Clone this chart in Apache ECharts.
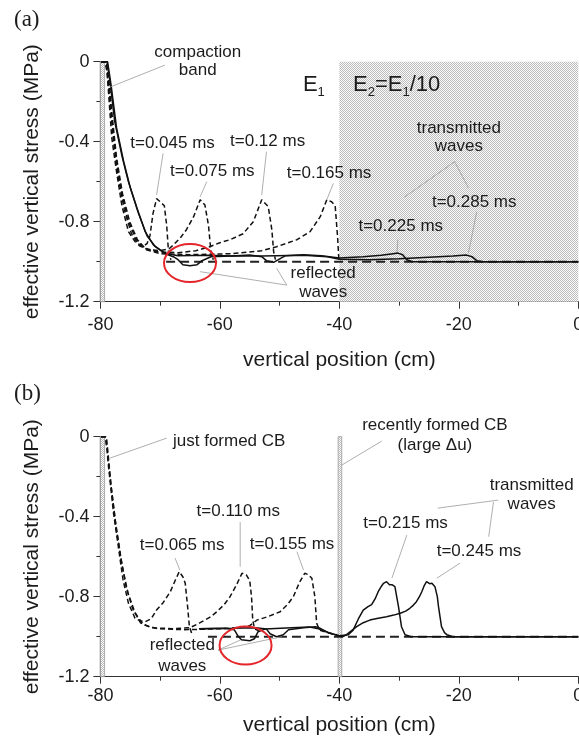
<!DOCTYPE html>
<html>
<head>
<meta charset="utf-8">
<script src="https://cdn.jsdelivr.net/npm/echarts@6/dist/echarts.min.js"></script>
<style>
  html, body { margin: 0; padding: 0; background: #fff; }
  #chart { width: 579px; height: 738px; }
</style>
</head>
<body>
<div id="chart"></div>
<script>
// axis ticks
const xTicks = [-80, -60, -40, -20, 0];
const yTicks = [-1.2, -0.8, -0.4, 0];

// ---- panel (a): E1 | E2 = E1/10 as [position cm, stress MPa]
const aT045 = [[-79.9,0],[-79.2,0],[-78.9,-0.05],[-78.7,-0.13],[-78.1,-0.38],[-77.3,-0.55],[-76.4,-0.72],[-75.3,-0.85],[-74.2,-0.9],[-73.0,-0.925],[-72.2,-0.91],[-71.7,-0.87],[-71.2,-0.76],[-70.6,-0.685],[-70.0,-0.7],[-69.3,-0.72],[-68.9,-0.82],[-68.6,-0.95],[-68.2,-0.99]];
const aT075 = [[-79.9,0],[-79.1,0],[-78.8,-0.07],[-78.4,-0.2],[-77.8,-0.4],[-77.0,-0.58],[-76.0,-0.74],[-74.8,-0.86],[-73.5,-0.92],[-72.0,-0.94],[-70.0,-0.945],[-68.5,-0.935],[-67.8,-0.917],[-66.6,-0.88],[-65.6,-0.84],[-64.4,-0.775],[-63.3,-0.69],[-62.5,-0.717],[-61.9,-0.82],[-61.5,-0.95],[-61.1,-0.99]];
const aT120 = [[-79.9,0],[-79.0,0],[-78.7,-0.08],[-78.2,-0.25],[-77.5,-0.45],[-76.6,-0.63],[-75.5,-0.78],[-74.2,-0.88],[-72.8,-0.93],[-70.5,-0.95],[-67.0,-0.955],[-64.0,-0.945],[-61.7,-0.925],[-60.0,-0.905],[-58.3,-0.89],[-56.1,-0.86],[-54.4,-0.8],[-53.0,-0.69],[-51.9,-0.725],[-51.3,-0.84],[-51.0,-0.95],[-50.7,-0.99]];
const aT165 = [[-79.9,0],[-79.0,0],[-78.6,-0.09],[-78.0,-0.28],[-77.3,-0.48],[-76.3,-0.66],[-75.1,-0.8],[-73.8,-0.89],[-72.3,-0.94],[-70.0,-0.96],[-65.0,-0.965],[-58.0,-0.96],[-53.0,-0.945],[-50.5,-0.925],[-47.1,-0.89],[-44.9,-0.85],[-43.2,-0.775],[-42.1,-0.69],[-41.3,-0.7],[-40.7,-0.72],[-40.3,-0.875],[-40.1,-0.98],[-39.7,-1.0]];
const aT225 = [[-79.9,0],[-78.9,0],[-78.4,-0.1],[-77.6,-0.3],[-76.4,-0.47],[-75.3,-0.6],[-73.9,-0.73],[-72.5,-0.85],[-71.1,-0.917],[-69.2,-0.958],[-67.0,-0.97],[-62.0,-0.968],[-58.0,-0.972],[-55.0,-0.966],[-53.0,-0.975],[-52.2,-0.995],[-51.0,-1.003],[-50.2,-0.99],[-49.0,-0.97],[-46.0,-0.965],[-43.0,-0.97],[-40.0,-0.982],[-36.0,-0.975],[-33.0,-0.968],[-31.0,-0.96],[-30.2,-0.957],[-29.4,-0.965],[-28.7,-0.99],[-27.8,-1.0],[0,-1.0]];
const aT285 = [[-79.9,0],[-78.8,0],[-78.2,-0.12],[-77.3,-0.33],[-76.1,-0.5],[-75.0,-0.63],[-73.6,-0.76],[-72.2,-0.87],[-70.8,-0.925],[-69.0,-0.962],[-67.8,-0.975],[-67.0,-0.99],[-66.2,-1.015],[-65.0,-1.02],[-63.8,-1.015],[-63.0,-0.995],[-61.5,-0.975],[-57.0,-0.97],[-53.0,-0.972],[-46.0,-0.968],[-42.0,-0.975],[-40.0,-0.988],[-35.0,-0.99],[-30.0,-0.985],[-25.0,-0.978],[-21.0,-0.972],[-18.7,-0.967],[-17.8,-0.975],[-17.0,-0.995],[-16.0,-1.0],[0,-1.0]];
const aInitial = [[-69,-1.0],[0,-1.0]];

// ---- panel (b): uniform bar, band re-forms at -40 cm
const bT065 = [[-79.9,0],[-79.2,0],[-78.9,-0.06],[-78.7,-0.133],[-77.8,-0.383],[-77.0,-0.55],[-76.2,-0.717],[-75.3,-0.833],[-74.2,-0.908],[-73.4,-0.92],[-72.5,-0.925],[-71.5,-0.91],[-70.6,-0.867],[-69.5,-0.83],[-68.3,-0.775],[-67.5,-0.72],[-66.8,-0.675],[-66.2,-0.7],[-65.8,-0.733],[-65.4,-0.85],[-65.1,-0.95],[-64.7,-0.985]];
const bT110 = [[-79.9,0],[-79.1,0],[-78.8,-0.08],[-78.4,-0.2],[-77.5,-0.42],[-76.6,-0.6],[-75.7,-0.75],[-74.6,-0.86],[-73.3,-0.93],[-71.5,-0.955],[-68.0,-0.96],[-65.0,-0.955],[-63.3,-0.93],[-61.5,-0.9],[-60.5,-0.875],[-59.3,-0.84],[-58.3,-0.8],[-57.2,-0.74],[-56.3,-0.683],[-55.6,-0.69],[-55.0,-0.72],[-54.7,-0.8],[-54.5,-0.917],[-54.2,-0.96],[-53.5,-0.97]];
const bT155 = [[-79.9,0],[-79.0,0],[-78.7,-0.09],[-78.2,-0.25],[-77.3,-0.47],[-76.4,-0.64],[-75.4,-0.78],[-74.2,-0.88],[-72.8,-0.94],[-70.5,-0.96],[-66.0,-0.965],[-62.0,-0.962],[-58.0,-0.958],[-55.0,-0.945],[-53.8,-0.917],[-52.0,-0.9],[-49.9,-0.875],[-48.7,-0.84],[-47.7,-0.8],[-46.7,-0.73],[-45.8,-0.683],[-45.2,-0.69],[-44.6,-0.708],[-44.1,-0.8],[-43.8,-0.933],[-43.3,-0.967],[-42.0,-0.98],[-40.4,-0.99]];
const bT215 = [[-63.5,-0.96],[-58.0,-0.958],[-54.0,-0.955],[-52.2,-0.962],[-51.6,-0.985],[-50.5,-1.0],[-49.4,-0.99],[-48.5,-0.965],[-46.0,-0.955],[-44.0,-0.95],[-43.2,-0.958],[-41.6,-0.983],[-40.0,-0.995],[-38.5,-0.99],[-37.7,-0.967],[-36.8,-0.91],[-36.0,-0.867],[-35.2,-0.85],[-34.6,-0.84],[-34.0,-0.81],[-33.5,-0.775],[-32.9,-0.745],[-32.6,-0.733],[-32.1,-0.725],[-31.6,-0.74],[-31.2,-0.74],[-30.7,-0.75],[-30.1,-0.85],[-29.6,-0.95],[-29.0,-0.99],[-28.0,-1.0],[0,-1.0]];
const bT245 = [[-63.5,-0.96],[-59.0,-0.958],[-57.6,-0.965],[-57.0,-0.995],[-56.4,-1.015],[-55.0,-1.02],[-54.2,-1.01],[-53.6,-0.975],[-52.5,-0.962],[-48.0,-0.955],[-45.0,-0.952],[-43.5,-0.96],[-42.0,-0.978],[-40.5,-0.992],[-39.5,-1.0],[-38.8,-0.99],[-37.1,-0.95],[-36.0,-0.93],[-34.9,-0.917],[-33.5,-0.908],[-32.1,-0.9],[-30.9,-0.892],[-29.8,-0.883],[-28.9,-0.872],[-28.2,-0.858],[-27.6,-0.842],[-27.1,-0.825],[-26.6,-0.8],[-26.2,-0.775],[-25.8,-0.745],[-25.4,-0.725],[-24.9,-0.735],[-24.5,-0.733],[-24.0,-0.75],[-23.6,-0.8],[-23.4,-0.85],[-23.1,-0.91],[-22.9,-0.95],[-22.4,-0.98],[-22.0,-0.99],[-21.0,-1.0],[0,-1.0]];
const bInitial = [[-62,-1.0],[0,-1.0]];

// compaction bands and the softer zone, [from, to] in cm
const bandsA = [[-80, -79.3]];
const bandsB = [[-80, -79.3], [-40.2, -39.6]];
const softZoneA = [-40, 0];

// annotations, anchored in data units
const notesA = [
  { text: 'compaction\nband', at: [-63.7, 0.0], align: 'center', lh: 18 },
  { text: 't=0.045 ms', at: [-75.0, -0.408] },
  { text: 't=0.075 ms', at: [-68.35, -0.55] },
  { text: 't=0.12 ms', at: [-58.3, -0.4] },
  { text: 't=0.165 ms', at: [-48.8, -0.558] },
  { text: 't=0.225 ms', at: [-36.8, -0.825] },
  { text: 't=0.285 ms', at: [-24.5, -0.705] },
  { text: 'transmitted\nwaves', at: [-20.0, -0.38], align: 'center', lh: 18 },
  { text: 'reflected\nwaves', at: [-42.7, -1.108], align: 'center', lh: 19 }
];
const leadersA = [
  [[-69.2, -0.017], [-78.4, -0.127]],
  [[-69.5, -0.458], [-70.6, -0.667]],
  [[-62.2, -0.6], [-63.3, -0.675]],
  [[-52.2, -0.45], [-53.0, -0.667]],
  [[-41.0, -0.608], [-42.1, -0.69]],
  [[-30.2, -0.89], [-30.35, -0.95]],
  [[-17.0, -0.75], [-18.4, -0.958]],
  [[-20.7, -0.5], [-29.1, -0.677]],
  [[-20.7, -0.5], [-18.4, -0.63]],
  [[-48.8, -1.117], [-63.3, -1.05]],
  [[-48.8, -1.117], [-50.5, -1.033]]
];
const circleA = [-65.0, -1.007];

const notesB = [
  { text: 'just formed CB', at: [-67.85, -0.025] },
  { text: 'recently formed CB\n(large \u0394u)', at: [-24.0, 0.008], align: 'center', lh: 20 },
  { text: 'transmitted\nwaves', at: [-7.8, -0.289], align: 'center', lh: 19 },
  { text: 't=0.215 ms', at: [-36.0, -0.432] },
  { text: 't=0.245 ms', at: [-23.7, -0.575] },
  { text: 't=0.065 ms', at: [-73.4, -0.542] },
  { text: 't=0.110 ms', at: [-63.9, -0.375] },
  { text: 't=0.155 ms', at: [-55.0, -0.537] },
  { text: 'reflected\nwaves', at: [-66.3, -1.097], align: 'center', lh: 21 }
];
const leadersB = [
  [[-68.9, -0.007], [-78.4, -0.107]],
  [[-32.9, -0.022], [-39.6, -0.142]],
  [[-13.4, -0.317], [-23.5, -0.357]],
  [[-14.2, -0.326], [-15.0, -0.5]],
  [[-28.7, -0.492], [-31.2, -0.707]],
  [[-19.8, -0.632], [-23.7, -0.708]],
  [[-67.5, -0.607], [-66.7, -0.667]],
  [[-56.6, -0.427], [-56.6, -0.65]],
  [[-47.1, -0.575], [-46.0, -0.667]],
  [[-60.3, -1.067], [-56.6, -1.017]],
  [[-60.3, -1.067], [-49.6, -1.0]]
];
const circleB = [-55.7, -1.044];

const FONT = "'Liberation Sans', Arial, sans-serif";
const TXT = '#1c1c1c';

function dotPattern() {
  const c = document.createElement('canvas');
  c.width = 2; c.height = 2;
  const g = c.getContext('2d');
  g.fillStyle = '#fbfbfb'; g.fillRect(0, 0, 2, 2);
  g.fillStyle = '#bcbcbc'; g.fillRect(0, 0, 1, 1); g.fillRect(1, 1, 1, 1);
  return { image: c, repeat: 'repeat' };
}
const dots = dotPattern();

function xAxisFor(i, gap, margin) {
  return {
    gridIndex: i, type: 'value', min: xTicks[0], max: xTicks[xTicks.length - 1], interval: 20,
    axisLine: { onZero: false, lineStyle: { color: '#333', width: 1.2 } },
    axisTick: { length: 7, lineStyle: { color: '#333' } },
    minorTick: { show: true, splitNumber: 2, length: 4, lineStyle: { color: '#333' } },
    splitLine: { show: false },
    axisLabel: { fontSize: 18, color: TXT, fontFamily: FONT, margin: margin, showMaxLabel: true },
    name: 'vertical position (cm)', nameLocation: 'middle', nameGap: gap,
    nameTextStyle: { fontSize: 21, color: TXT, fontFamily: FONT }
  };
}
function yAxisFor(i) {
  return {
    gridIndex: i, type: 'value', min: yTicks[0], max: yTicks[yTicks.length - 1], interval: 0.4,
    axisLine: { onZero: false, lineStyle: { color: '#333', width: 1.2 } },
    axisTick: { length: 7, lineStyle: { color: '#333' } },
    minorTick: { show: true, splitNumber: 2, length: 4, lineStyle: { color: '#333' } },
    splitLine: { show: false },
    axisLabel: {
      fontSize: 18, color: TXT, fontFamily: FONT, margin: 11,
      formatter: v => (Math.abs(v) < 1e-9 ? '0' : (+v).toFixed(1))
    },
    name: 'effective vertical stress (MPa)', nameLocation: 'middle', nameGap: 58,
    nameTextStyle: { fontSize: 21, color: TXT, fontFamily: FONT }
  };
}

function curve(i, data, dashed) {
  return {
    type: 'line', xAxisIndex: i, yAxisIndex: i, data: data,
    showSymbol: false, silent: true, z: 5,
    lineStyle: { color: '#111', width: 1.5, type: dashed ? [5, 3] : 'solid' }
  };
}

function areas(bands, zone) {
  const out = [];
  if (zone) {
    out.push([{ xAxis: zone[0], yAxis: 0, itemStyle: { color: dots, borderWidth: 0 } },
              { xAxis: zone[1], yAxis: -1.2 }]);
  }
  bands.forEach(b => {
    out.push([{ xAxis: b[0], yAxis: 0, itemStyle: { color: dots, borderColor: '#9a9a9a', borderWidth: 0.8 } },
              { xAxis: b[1], yAxis: -1.2 }]);
  });
  return out;
}

function initial(i, data, bands, zone) {
  return {
    type: 'line', xAxisIndex: i, yAxisIndex: i, data: data,
    showSymbol: false, silent: true, z: 4,
    lineStyle: { color: '#222', width: 2, type: [9, 5] },
    markArea: { silent: true, label: { show: false }, data: areas(bands, zone) }
  };
}

const chart = echarts.init(document.getElementById('chart'), null, { renderer: 'canvas' });
chart.setOption({
  animation: false,
  backgroundColor: '#fff',
  grid: [
    { left: 100.4, top: 61.7, width: 477.9, height: 240, outerBoundsMode: 'none' },
    { left: 100.4, top: 436.7, width: 477.9, height: 240, outerBoundsMode: 'none' }
  ],
  xAxis: [xAxisFor(0, 48, 14), xAxisFor(1, 38, 10)],
  yAxis: [yAxisFor(0), yAxisFor(1)],
  series: [
    initial(0, aInitial, bandsA, softZoneA),
    curve(0, aT045, true), curve(0, aT075, true), curve(0, aT120, true), curve(0, aT165, true),
    curve(0, aT225, false), curve(0, aT285, false),
    initial(1, bInitial, bandsB, null),
    curve(1, bT065, true), curve(1, bT110, true), curve(1, bT155, true),
    curve(1, bT215, false), curve(1, bT245, false)
  ]
});

function overlay(g, notes, leaders, circle) {
  const els = [];
  const px = p => chart.convertToPixel({ gridIndex: g }, p);
  leaders.forEach(l => {
    const a = px(l[0]), b = px(l[1]);
    els.push({ type: 'line', z: 20, silent: true,
      shape: { x1: a[0], y1: a[1], x2: b[0], y2: b[1] },
      style: { stroke: '#9a9a9a', lineWidth: 0.8 } });
  });
  notes.forEach(n => {
    const p = px(n.at);
    els.push({ type: 'text', z: 30, silent: true, x: p[0], y: p[1],
      style: { text: n.text, font: '17px ' + FONT, fill: TXT,
        align: n.align || 'left', textAlign: n.align || 'left',
        verticalAlign: 'middle', textVerticalAlign: 'middle',
        lineHeight: n.lh || 20 } });
  });
  const c = px(circle);
  els.push({ type: 'ellipse', z: 25, silent: true,
    shape: { cx: c[0], cy: c[1], rx: 26, ry: 19 },
    style: { fill: 'none', stroke: '#e4262b', lineWidth: 2 } });
  return els;
}

const graphics = []
  .concat(overlay(0, notesA, leadersA, circleA))
  .concat(overlay(1, notesB, leadersB, circleB));

// E1 | E2 = E1/10 header over the soft zone
const eAt = chart.convertToPixel({ gridIndex: 0 }, [-46.1, -0.117]);
const eAt2 = chart.convertToPixel({ gridIndex: 0 }, [-37.7, -0.117]);
const eRich = {
  n: { fontSize: 22, fontFamily: FONT, fill: TXT, color: TXT },
  s: { fontSize: 13, fontFamily: FONT, fill: TXT, color: TXT, verticalAlign: 'top', padding: [15, 0, 0, 0] }
};
graphics.push({ type: 'text', z: 30, silent: true, x: eAt[0], y: eAt[1],
  style: { text: '{n|E}{s|1}', rich: eRich, align: 'left', textAlign: 'left', verticalAlign: 'middle', textVerticalAlign: 'middle' } });
graphics.push({ type: 'text', z: 30, silent: true, x: eAt2[0], y: eAt2[1],
  style: { text: '{n|E}{s|2}{n|=E}{s|1}{n|/10}', rich: eRich, align: 'left', textAlign: 'left', verticalAlign: 'middle', textVerticalAlign: 'middle' } });

// panel letters
graphics.push({ type: 'text', z: 30, silent: true, left: 14, top: 8,
  style: { text: '(a)', font: "23px 'Liberation Serif', 'Times New Roman', serif", fill: TXT } });
graphics.push({ type: 'text', z: 30, silent: true, left: 14, top: 382,
  style: { text: '(b)', font: "23px 'Liberation Serif', 'Times New Roman', serif", fill: TXT } });

chart.setOption({ graphic: { elements: graphics } });
</script>
</body>
</html>
